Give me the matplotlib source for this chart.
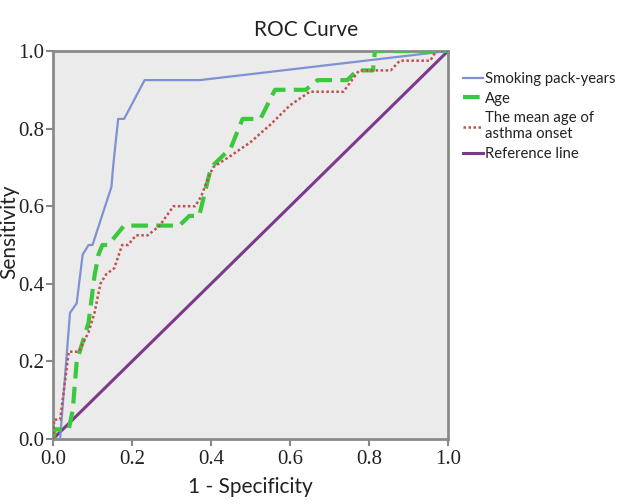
import matplotlib
matplotlib.use("Agg")
import matplotlib.pyplot as plt

# Smoking pack-years ROC
smk_x = [0.0, 0.018, 0.043, 0.06, 0.075, 0.09, 0.10, 0.148, 0.152, 0.165, 0.18, 0.232, 0.372, 1.0]
smk_y = [0.0, 0.0, 0.325, 0.35, 0.475, 0.50, 0.50, 0.65, 0.70, 0.825, 0.825, 0.925, 0.925, 1.0]

# Age ROC
age_x = [0.0, 0.005, 0.04, 0.05, 0.06, 0.075, 0.09, 0.105, 0.115, 0.125, 0.14, 0.18, 0.32, 0.345,
         0.37, 0.40, 0.45, 0.48, 0.525, 0.562, 0.64, 0.67, 0.745, 0.77, 0.81, 0.815, 1.0]
age_y = [0.0, 0.025, 0.025, 0.075, 0.20, 0.25, 0.30, 0.42, 0.475, 0.50, 0.50, 0.55, 0.55, 0.575,
         0.575, 0.70, 0.75, 0.825, 0.825, 0.90, 0.90, 0.925, 0.925, 0.95, 0.95, 1.0, 1.0]

# Mean age of asthma onset ROC
onset_x = [0.0, 0.003, 0.018, 0.04, 0.065, 0.09, 0.105, 0.12, 0.135, 0.155, 0.175, 0.19, 0.21, 0.24,
           0.27, 0.305, 0.36, 0.375, 0.39, 0.405, 0.45, 0.50, 0.55, 0.60, 0.65, 0.735, 0.775, 0.855,
           0.878, 0.955, 0.97, 1.0]
onset_y = [0.0, 0.05, 0.05, 0.225, 0.225, 0.275, 0.325, 0.40, 0.425, 0.44, 0.50, 0.50, 0.525, 0.525,
           0.55, 0.60, 0.60, 0.625, 0.665, 0.70, 0.73, 0.765, 0.81, 0.86, 0.895, 0.895, 0.95, 0.95,
           0.975, 0.975, 1.0, 1.0]

ref_x = [0.0, 1.0]
ref_y = [0.0, 1.0]

ticks = [0.0, 0.2, 0.4, 0.6, 0.8, 1.0]
tick_labels = ["0.0", "0.2", "0.4", "0.6", "0.8", "1.0"]

W, H = 641, 504
fig = plt.figure(figsize=(W / 100, H / 100), dpi=100)
ax = fig.add_axes([53 / W, 1 - 439 / H, 395 / W, 388 / H])
ax.set_facecolor("#ebebeb")

ax.plot(smk_x, smk_y, color="#7f91d2", lw=1.6, label="Smoking pack-years", zorder=3)
ax.plot(age_x, age_y, color="#3cc83c", lw=3.0, ls=(0, (4, 2)), label="Age", zorder=4)
ax.plot(onset_x, onset_y, color="#c0504d", lw=1.8, ls=(0, (1, 1)), label="The mean age of\nasthma onset", zorder=5)
ax.plot(ref_x, ref_y, color="#7d3a8c", lw=2.2, label="Reference line", zorder=2)

ax.set_xlim(0, 1)
ax.set_ylim(0, 1)
ax.set_xticks(ticks)
ax.set_yticks(ticks)
ax.set_xticklabels(tick_labels, fontfamily="Liberation Serif", fontsize=15, color="#222222")
ax.set_yticklabels(tick_labels, fontfamily="Liberation Serif", fontsize=15, color="#222222")
ax.tick_params(direction="out", length=5, width=1.5, color="#888888")
ax.tick_params(axis="x", pad=3)
ax.tick_params(axis="y", pad=1)

for s in ax.spines.values():
    s.set_color("#8a8a8a")
    s.set_linewidth(2.0)

fig.text(306 / W, 1 - 30 / H, "ROC Curve", fontfamily="Lato", fontsize=15, color="#222222",
         ha="center", va="center")
ax.set_xlabel("1 - Specificity", fontfamily="Lato", fontsize=15, color="#222222", labelpad=6)
fig.text(9 / W, 1 - 232 / H, "Sensitivity", fontfamily="Lato", fontsize=15, color="#222222",
         ha="center", va="center", rotation=90)

leg = ax.legend(loc="upper left", bbox_to_anchor=(463 / W, 1 - 72 / H), bbox_transform=fig.transFigure,
                frameon=False, prop={"family": "Lato", "size": 10.7}, handlelength=1.35,
                handletextpad=0.15, labelspacing=0.38, borderaxespad=0, borderpad=0)
for t in leg.get_texts():
    t.set_color("#222222")

fig.savefig("out.png", dpi=100)
